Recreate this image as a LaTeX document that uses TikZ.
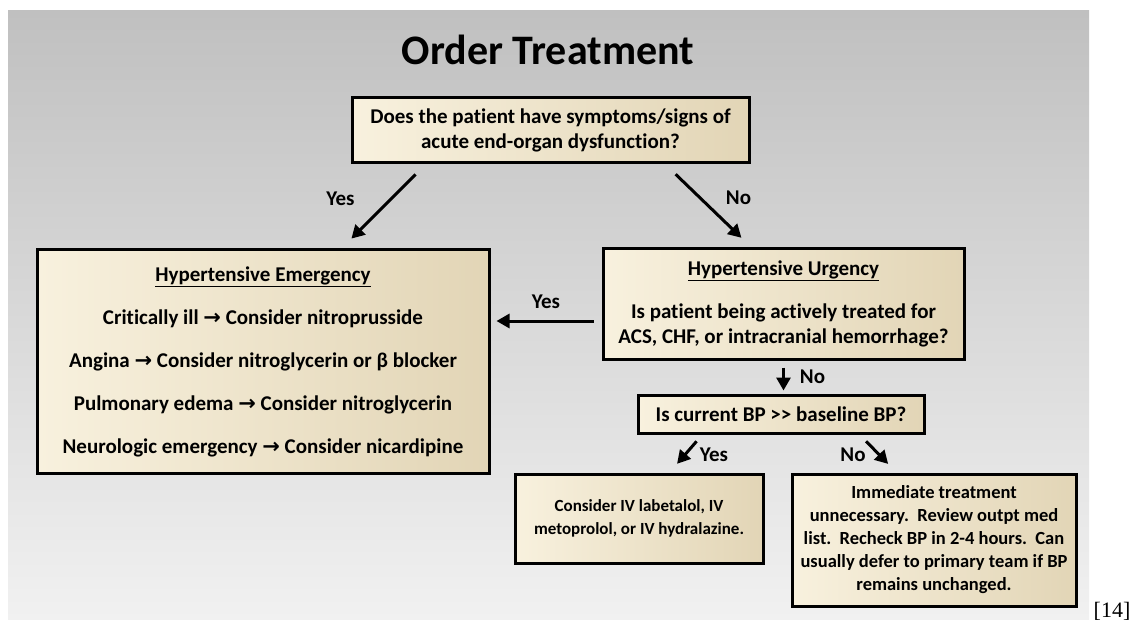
\documentclass[tikz,border=0pt]{standalone}
\usepackage{fontspec}
\setmainfont{Carlito}[Ligatures=NoCommon]
\newfontfamily\arrowfont{DejaVu Sans}
\newfontfamily\citefont{Liberation Serif}
\usetikzlibrary{arrows.meta}

\definecolor{slidetop}{HTML}{C0C0C0}
\definecolor{slidemid}{HTML}{CDCDCD}
\definecolor{slidebot}{HTML}{F1F1F1}
\definecolor{boxlight}{HTML}{F8F1DE}
\definecolor{boxdark}{HTML}{E2D5B6}

\newcommand{\thento}{{\arrowfont →}}

\tikzset{
  box/.style={draw, line width=3pt, left color=boxlight, right color=boxdark,
    align=center, inner sep=0pt},
  arr/.style={line width=3pt, -{Triangle[length=13pt,width=14pt]}},
  small/.style={font=\bfseries\fontsize{17}{23}\selectfont}
}

\begin{document}
\begin{tikzpicture}[x=1pt, y=-1pt, font=\bfseries\fontsize{21}{25}\selectfont]
  \useasboundingbox (0,0) rectangle (1134,620);
  \fill[white] (0,0) rectangle (1134,620);
  \shade[top color=slidetop, middle color=slidemid, bottom color=slidebot]
    (8,11) rectangle (1089,620);

  \node[font=\bfseries\fontsize{42}{50}\selectfont] (title) at (548,50) {Order Treatment};

  % Kaesten
  \node[box, minimum width=397pt, minimum height=65pt] (q) at (550.5,130.5)
    {Does the patient have symptoms/signs of\\acute end-organ dysfunction?};
  \node[box, minimum width=452pt, minimum height=223pt] (emg) at (263,361.5)
    {\underline{Hypertensive Emergency}\\[18pt]
     Critically ill \thento{} Consider nitroprusside\\[18pt]
     Angina \thento{} Consider nitroglycerin or β blocker\\[18pt]
     Pulmonary edema \thento{} Consider nitroglycerin\\[18pt]
     Neurologic emergency \thento{} Consider nicardipine};
  \node[box, minimum width=361pt, minimum height=110pt] (urg) at (783.5,304)
    {\underline{Hypertensive Urgency}\\[18pt]
     Is patient being actively treated for\\ACS, CHF, or intracranial hemorrhage?};
  \node[box, minimum width=286pt, minimum height=38pt] (bp) at (781,414)
    {Is current BP >{}> baseline BP?};
  \node[box, small, minimum width=248pt, minimum height=89pt] (lab) at (639,518.5)
    {Consider IV labetalol, IV\\metoprolol, or IV hydralazine.};
  \node[box, small, font=\bfseries\fontsize{18.5}{23}\selectfont, minimum width=284pt, minimum height=132pt] (imm) at (934,540)
    {Immediate treatment\\unnecessary.\ \ Review outpt med\\list.\ \ Recheck BP in 2-4 hours.\ \ Can\\usually defer to primary team if BP\\remains unchanged.};

  \node[font=\citefont\mdseries\fontsize{22}{26}\selectfont] (cite) at (1112,611) {[14]};

  % Pfeile
  \draw[arr, shorten <=14pt, shorten >=14pt] ([xshift=75pt]q.south west) -- ([xshift=306pt]emg.north west)
    node[midway, xshift=-43pt, yshift=8pt] {Yes};
  \draw[arr, shorten <=14pt, shorten >=14pt] ([xshift=315pt]q.south west) -- ([xshift=150pt]urg.north west)
    node[midway, xshift=30pt, yshift=8pt] {No};
  \draw[arr, shorten <=8pt, shorten >=6pt] ([yshift=-17pt]urg.west) -- ([yshift=-17pt]urg.west -| emg.east)
    node[midway, yshift=19pt] {Yes};
  \draw[arr, shorten <=7pt, shorten >=3pt] (urg.south) -- (urg.south |- bp.north)
    node[midway, xshift=29pt] {No};
  \draw[arr, shorten <=9pt, shorten >=11.5pt] ([xshift=66pt]bp.south west) -- ([xshift=156pt]lab.north west)
    node[midway, xshift=28pt, yshift=-1pt] {Yes};
  \draw[arr, shorten <=9.5pt, shorten >=12pt] ([xshift=223pt]bp.south west) -- ([xshift=106pt]imm.north west)
    node[midway, xshift=-25pt, yshift=-1pt] {No};
\end{tikzpicture}
\end{document}
